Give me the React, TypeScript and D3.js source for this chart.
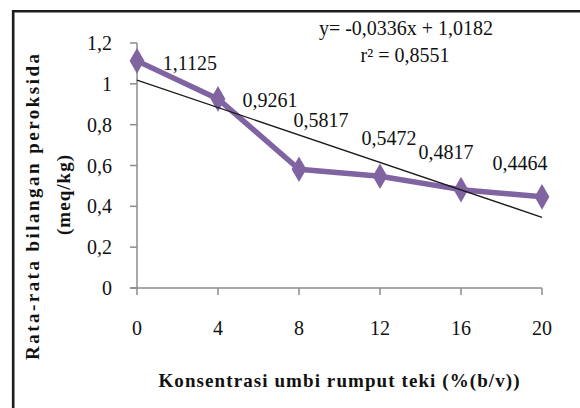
import * as d3 from "d3";
import React from "react";

// konsentrasi umbi rumput teki (% b/v)
const concentrations = [0, 4, 8, 12, 16, 20];
// rata-rata bilangan peroksida (meq/kg)
const peroxide = [1.1125, 0.9261, 0.5817, 0.5472, 0.4817, 0.4464];
const yTicks = [0, 0.2, 0.4, 0.6, 0.8, 1, 1.2];
const xTicks = [0, 4, 8, 12, 16, 20];

// linear trend (from the excel fit)
const slope = -0.0336;
const intercept = 1.0182;
const r2 = 0.8551;

// manual label nudges, like the hand-placed excel labels
const labelOffsets: [number, number][] = [
  [53, 2], [52, 1], [22, -49], [9, -38], [-15, -38], [-22, -34],
];

const W = 580;
const H = 408;
const PURPLE = "#8064A2";
const AXIS = "#8c8c8c";
const FONT = "'Liberation Serif', 'Times New Roman', serif";

const comma = (v: number) => d3.format("~g")(v).replace(".", ",");

export default function App() {
  const x = d3.scaleLinear().domain([0, 20]).range([137, 542]);
  const y = d3.scaleLinear().domain([0, 1.2]).range([288, 43]);

  const pts = concentrations.map((c, i) => ({ c, v: peroxide[i] }));
  const line = d3.line<{ c: number; v: number }>()
    .x(d => x(d.c))
    .y(d => y(d.v));

  const diamond = d3.symbol().type(d3.symbolDiamond).size(190)();

  const [x0, x1] = x.domain();

  return (
    <div style={{ position: "fixed", left: 0, top: 0 }}>
      <svg width={W} height={H} style={{ display: "block", background: "#fff" }} fontFamily={FONT}>
        {/* frame */}
        <line x1={12} x2={W} y1={11.2} y2={11.2} stroke="#1c1c1c" strokeWidth={2.6} />
        <line x1={13.2} x2={13.2} y1={10} y2={H} stroke="#1c1c1c" strokeWidth={2.6} />

        {/* axes */}
        <line x1={x(0)} x2={x(0)} y1={y(1.2)} y2={y(0)} stroke={AXIS} strokeWidth={1.5} />
        <line x1={x(0) - 7} x2={x(20)} y1={y(0)} y2={y(0)} stroke={AXIS} strokeWidth={1.5} />
        {yTicks.map(t => (
          <g key={"y" + t}>
            <line x1={x(0) - 7} x2={x(0)} y1={y(t)} y2={y(t)} stroke={AXIS} strokeWidth={1.5} />
            <text x={112} y={y(t)} textAnchor="end" dominantBaseline="central" fontSize={20} fill="#111">
              {comma(t)}
            </text>
          </g>
        ))}
        {xTicks.map(t => (
          <g key={"x" + t}>
            <line x1={x(t)} x2={x(t)} y1={y(0)} y2={y(0) + 7} stroke={AXIS} strokeWidth={1.5} />
            <text x={x(t)} y={328} textAnchor="middle" dominantBaseline="central" fontSize={20} fill="#111">
              {t}
            </text>
          </g>
        ))}

        {/* series */}
        <path d={line(pts) ?? ""} fill="none" stroke={PURPLE} strokeWidth={5.5} strokeLinejoin="round" />
        {pts.map(p => (
          <path key={"m" + p.c} d={diamond ?? ""} transform={`translate(${x(p.c)},${y(p.v)})`} fill={PURPLE} />
        ))}

        {/* trend line */}
        <line
          x1={x(x0)} y1={y(intercept + slope * x0)}
          x2={x(x1)} y2={y(intercept + slope * x1)}
          stroke="#1a1a1a" strokeWidth={1.3}
        />

        {/* data labels */}
        {pts.map((p, i) => (
          <text
            key={"l" + p.c}
            x={x(p.c) + labelOffsets[i][0]}
            y={y(p.v) + labelOffsets[i][1]}
            textAnchor="middle"
            dominantBaseline="central"
            fontSize={20}
            fill="#111"
          >
            {String(p.v).replace(".", ",")}
          </text>
        ))}

        {/* equation */}
        <text x={406} y={28} textAnchor="middle" dominantBaseline="central" fontSize={20} fill="#111">
          {`y= ${String(slope).replace(".", ",")}x + ${String(intercept).replace(".", ",")}`}
        </text>
        <text x={405} y={55} textAnchor="middle" dominantBaseline="central" fontSize={20} fill="#111">
          r² = {String(r2).replace(".", ",")}
        </text>

        {/* axis titles */}
        <text
          transform="translate(32,207) rotate(-90)"
          textAnchor="middle" dominantBaseline="central"
          fontSize={19} fontWeight="bold" fill="#111"
          textLength={306} lengthAdjust="spacing"
        >
          Rata-rata bilangan peroksida
        </text>
        <text
          transform="translate(63,195) rotate(-90)"
          textAnchor="middle" dominantBaseline="central"
          fontSize={19} fontWeight="bold" fill="#111"
          textLength={80} lengthAdjust="spacing"
        >
          (meq/kg)
        </text>
        <text
          x={339} y={380}
          textAnchor="middle" dominantBaseline="central"
          fontSize={19} fontWeight="bold" fill="#111"
          textLength={361} lengthAdjust="spacing"
        >
          Konsentrasi umbi rumput teki (%(b/v))
        </text>
      </svg>
    </div>
  );
}
